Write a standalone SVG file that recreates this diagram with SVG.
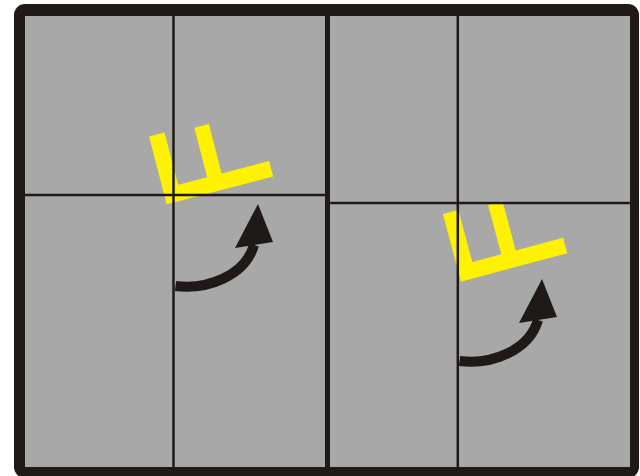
<svg xmlns="http://www.w3.org/2000/svg" width="640" height="476" viewBox="0 0 640 476">
  <defs>
    <style>
      .frame { fill: #1F1A17; }
      .panel { fill: #A8A8A8; }
      .grid { stroke: #1F1A17; stroke-width: 2.5; fill: none; }
      .divider { stroke: #1F1A17; stroke-width: 5; fill: none; }
      .mark { fill: #FFF200; }
      .shaft { stroke: #1F1A17; stroke-width: 10; fill: none; stroke-linecap: butt; }
      .head { fill: #1F1A17; }
    </style>
    <path id="markShape" d="M0,0 L110,0 L110,-16 L61,-16 L61,-67 L46,-67 L46,-16 L16,-16 L16,-70 L0,-70 Z"/>
    <g id="turnArrow">
      <path class="shaft" d="M-1.5,0 C30,4 68,-10 77,-41"/>
      <path class="head" d="M58,-38 L96,-44 L81,-82 Z"/>
    </g>
  </defs>

  <g id="frame">
    <rect class="frame" x="14" y="4" width="625" height="474" rx="11" ry="11"/>
    <rect class="panel" x="25" y="16" width="605" height="451"/>
  </g>

  <g id="marks">
    <use href="#markShape" class="mark" transform="translate(166.7,204.3) rotate(-14.6)"/>
    <use href="#markShape" class="mark" transform="translate(461,281.7) rotate(-15)"/>
  </g>

  <g id="grid">
    <line class="grid" x1="173.5" y1="16" x2="173.5" y2="467"/>
    <line class="grid" x1="25" y1="195" x2="325" y2="195"/>
    <line class="grid" x1="457.8" y1="16" x2="457.8" y2="467"/>
    <line class="grid" x1="330" y1="203" x2="630" y2="203"/>
    <line class="divider" x1="327.5" y1="16" x2="327.5" y2="467"/>
  </g>

  <g id="arrows">
    <use href="#turnArrow" transform="translate(177,286)"/>
    <use href="#turnArrow" transform="translate(461,361)"/>
  </g>
</svg>
